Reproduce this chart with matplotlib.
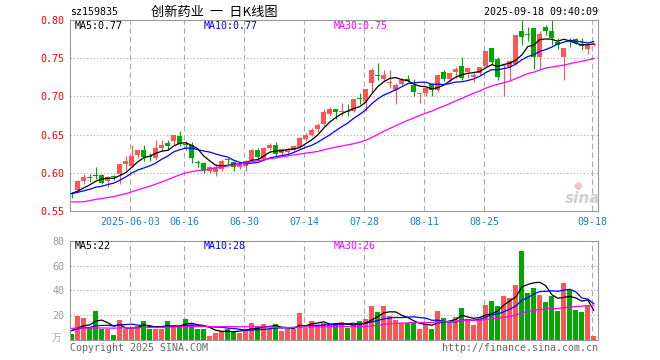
import numpy as np
import pandas as pd
import matplotlib
matplotlib.use('Agg')
from matplotlib import pyplot as plt

# trading days shown (2025-06-02 was a holiday)
dates = pd.bdate_range('2025-05-19', '2025-09-18')
dates = dates[dates != pd.Timestamp('2025-06-02')]

open_ = [0.573, 0.578, 0.589, 0.594, 0.597, 0.597, 0.589, 0.595, 0.598, 0.611,
         0.609, 0.623, 0.630, 0.622, 0.619, 0.633, 0.639, 0.642, 0.648, 0.638,
         0.637, 0.614, 0.613, 0.602, 0.601, 0.605, 0.618, 0.614, 0.607, 0.609,
         0.617, 0.630, 0.618, 0.633, 0.637, 0.626, 0.627, 0.630, 0.634, 0.644,
         0.650, 0.657, 0.664, 0.677, 0.684, 0.680, 0.681, 0.681, 0.697, 0.694,
         0.718, 0.728, 0.723, 0.717, 0.709, 0.716, 0.723, 0.715, 0.703, 0.705,
         0.716, 0.708, 0.732, 0.723, 0.732, 0.740, 0.732, 0.725, 0.730, 0.740,
         0.763, 0.749, 0.740, 0.738, 0.743, 0.785, 0.781, 0.789, 0.751, 0.791,
         0.785, 0.771, 0.751, 0.772, 0.775, 0.768, 0.762, 0.767]
high = [0.575, 0.590, 0.598, 0.598, 0.607, 0.598, 0.596, 0.597, 0.612, 0.622,
        0.636, 0.631, 0.636, 0.626, 0.643, 0.643, 0.643, 0.650, 0.655, 0.641,
        0.640, 0.617, 0.614, 0.609, 0.611, 0.618, 0.619, 0.615, 0.612, 0.617,
        0.631, 0.632, 0.634, 0.639, 0.640, 0.633, 0.632, 0.637, 0.647, 0.652,
        0.659, 0.665, 0.683, 0.686, 0.684, 0.692, 0.690, 0.696, 0.705, 0.710,
        0.737, 0.744, 0.735, 0.735, 0.718, 0.724, 0.728, 0.723, 0.705, 0.712,
        0.718, 0.729, 0.735, 0.731, 0.738, 0.751, 0.737, 0.733, 0.738, 0.760,
        0.763, 0.751, 0.741, 0.747, 0.781, 0.801, 0.791, 0.789, 0.785, 0.793,
        0.802, 0.777, 0.764, 0.777, 0.776, 0.776, 0.770, 0.770]
low = [0.567, 0.576, 0.585, 0.588, 0.592, 0.585, 0.582, 0.590, 0.585, 0.604,
       0.607, 0.620, 0.615, 0.616, 0.617, 0.629, 0.630, 0.637, 0.635, 0.630,
       0.613, 0.607, 0.600, 0.600, 0.596, 0.602, 0.611, 0.602, 0.605, 0.602,
       0.616, 0.617, 0.617, 0.630, 0.622, 0.622, 0.624, 0.628, 0.633, 0.641,
       0.648, 0.653, 0.661, 0.675, 0.670, 0.675, 0.675, 0.679, 0.690, 0.681,
       0.706, 0.721, 0.719, 0.711, 0.690, 0.715, 0.719, 0.701, 0.691, 0.700,
       0.701, 0.706, 0.720, 0.719, 0.724, 0.722, 0.724, 0.719, 0.728, 0.738,
       0.742, 0.722, 0.701, 0.721, 0.741, 0.767, 0.773, 0.736, 0.736, 0.781,
       0.767, 0.762, 0.721, 0.765, 0.768, 0.761, 0.756, 0.766]
close = [0.572, 0.589, 0.595, 0.593, 0.596, 0.587, 0.594, 0.594, 0.611, 0.615,
         0.622, 0.630, 0.621, 0.621, 0.633, 0.637, 0.635, 0.650, 0.638, 0.637,
         0.619, 0.613, 0.602, 0.607, 0.608, 0.615, 0.617, 0.608, 0.611, 0.616,
         0.630, 0.621, 0.632, 0.636, 0.624, 0.631, 0.630, 0.635, 0.645, 0.650,
         0.656, 0.662, 0.680, 0.684, 0.680, 0.681, 0.680, 0.696, 0.696, 0.710,
         0.735, 0.727, 0.728, 0.718, 0.715, 0.722, 0.720, 0.706, 0.704, 0.711,
         0.708, 0.728, 0.723, 0.731, 0.736, 0.724, 0.737, 0.728, 0.738, 0.760,
         0.745, 0.725, 0.741, 0.746, 0.781, 0.778, 0.780, 0.751, 0.782, 0.785,
         0.776, 0.767, 0.764, 0.771, 0.770, 0.766, 0.767, 0.769]
# volume, 10k lots
volume = [5, 19.7, 18, 10, 23.5, 9, 9, 4.3, 16.5, 9,
          9, 11.5, 15.5, 9, 9, 9, 15.5, 11.5, 11.5, 17,
          12, 9, 9, 3.5, 6, 7.5, 9, 7.5, 6, 9,
          14, 10.5, 12.5, 9, 12.5, 7, 9, 9, 22, 10,
          15.5, 12, 14, 12.5, 11.9, 14.6, 10, 11.9, 15.4, 16.8,
          27, 22.7, 27.6, 19.5, 16.2, 13.5, 13.5, 14.6, 9.2, 12.7,
          9.2, 23.5, 17.8, 13.5, 18.6, 26, 16.8, 12.4, 16.8, 28.6,
          31.6, 27.6, 35.7, 34, 44.6, 71.6, 38, 42, 36.5, 30.3,
          35.7, 23.5, 45.7, 40.3, 24.3, 22.7, 28.6, 3.5]

# sessions before the window, only feed the moving averages
prior_close = [0.592, 0.588, 0.548, 0.549, 0.554, 0.552, 0.556, 0.558, 0.555, 0.553,
               0.550, 0.548, 0.552, 0.550, 0.549, 0.547, 0.551, 0.553, 0.556, 0.569,
               0.574, 0.576, 0.572, 0.570, 0.574, 0.572, 0.575, 0.573, 0.572]
prior_volume = [12, 14, 18, 15, 12, 10, 9, 8, 9, 11, 8, 7, 9, 10, 8,
                7, 9, 8, 10, 9, 8, 7, 10, 9, 7, 8, 9, 7, 8]

tick_dates = ['2025-06-03', '2025-06-16', '2025-06-30', '2025-07-14',
              '2025-07-28', '2025-08-11', '2025-08-25', '2025-09-18']
tick_labels = ['2025-06-03', '06-16', '06-30', '07-14', '07-28', '08-11', '08-25', '09-18']
price_ma_text = ['MA5:0.77', 'MA10:0.77', 'MA30:0.75']
vol_ma_text = ['MA5:22', 'MA10:28', 'MA30:26']

RED = '#ff5555'
GREEN = '#00a800'
MA_COLORS = ['black', '#0000ff', '#ff00ff']
GRID = '#aaaaaa'
MONO = 'DejaVu Sans Mono'

W, H = 660, 360


def px(x, y):
    return x / W, 1 - y / H


def moving_averages(prior, values):
    s = pd.Series(list(prior) + list(values), dtype=float)
    n = len(values)
    return [s.rolling(k).mean().values[-n:] for k in (5, 10, 30)]


def style_axes(ax):
    for sp in ax.spines.values():
        sp.set_color('#999999')
        sp.set_linewidth(0.8)
    ax.tick_params(length=0)
    ax.set_xlim(-0.3, len(dates) - 0.3)


o = np.array(open_)
c = np.array(close)
x = np.arange(len(dates))
up = c >= o
colors = np.where(up, RED, GREEN)
tick_idx = [int(np.where(dates == pd.Timestamp(d))[0][0]) for d in tick_dates]

fig = plt.figure(figsize=(W / 100, H / 100), dpi=100)
fig.patch.set_facecolor('white')

# ---- price panel
ax = fig.add_axes([70 / W, 1 - 211 / H, 528 / W, 191 / H])
style_axes(ax)
ax.set_ylim(0.55, 0.80)
for lvl in [0.60, 0.65, 0.70, 0.75]:
    ax.axhline(lvl, color=GRID, lw=0.8, ls=(0, (1, 2)), zorder=0)
for t in tick_idx:
    ax.axvline(t - 0.25, color=GRID, lw=0.8, ls=(0, (5, 3)), zorder=0)

ax.vlines(x, low, high, colors=colors, lw=0.8, zorder=2)
body = np.maximum(np.abs(c - o), 0.0013)
ax.bar(x, body, bottom=np.minimum(o, c), width=0.8, color=colors, lw=0, zorder=3)

for ma, col in zip(moving_averages(prior_close, close), MA_COLORS):
    ax.plot(x, ma, color=col, lw=0.9, zorder=4)

ax.set_yticks([0.55, 0.60, 0.65, 0.70, 0.75, 0.80])
ax.set_yticklabels(['%.2f' % v for v in ax.get_yticks()], color='red',
                   family=MONO, fontsize=7.2)
ax.set_xticks([t - 0.25 for t in tick_idx])
ax.set_xticklabels(tick_labels, color='#1a82c8', family=MONO, fontsize=7.2)
ax.tick_params(axis='y', pad=4)
ax.tick_params(axis='x', pad=4)

for txt, col, xp in zip(price_ma_text, MA_COLORS, [75, 204, 334]):
    fig.text(*px(xp, 26), txt, color=col, family=MONO, fontsize=7.2, va='center')

# sina watermark
fig.text(*px(583, 198), 'sina', color='#cfcfcf', fontsize=11, style='italic',
         weight='bold', ha='center', va='center')
fig.text(*px(578, 186), '●', color='#f2c4c4', fontsize=7, ha='center', va='center')

# ---- volume panel
axv = fig.add_axes([70 / W, 1 - 340 / H, 528 / W, 99.3 / H])
style_axes(axv)
axv.set_ylim(0, 80)
for lvl in [20, 40, 60]:
    axv.axhline(lvl, color=GRID, lw=0.8, ls=(0, (1, 2)), zorder=0)
for t in tick_idx:
    axv.axvline(t - 0.25, color=GRID, lw=0.8, ls=(0, (5, 3)), zorder=0)
axv.bar(x, volume, width=0.8, color=colors, lw=0, zorder=2)
for ma, col in zip(moving_averages(prior_volume, volume), MA_COLORS):
    axv.plot(x, ma, color=col, lw=0.9, zorder=3)
axv.set_xticks([])
axv.set_yticks([20, 40, 60, 80])
axv.set_yticklabels(['20', '40', '60', '80'], color='#999999', family=MONO, fontsize=7.2)
axv.tick_params(axis='y', pad=4)
fig.text(*px(57, 338), '万', color='#aaaaaa', fontsize=7,
         family=['Noto Sans CJK SC', 'DejaVu Sans'], ha='center', va='center')

for txt, col, xp in zip(vol_ma_text, MA_COLORS, [75, 204, 334]):
    fig.text(*px(xp, 246), txt, color=col, family=MONO, fontsize=7.2, va='center')

# ---- header / footer
fig.text(*px(70, 12), 'sz159835', color='black', family=MONO, fontsize=7.2, va='center')
fig.text(*px(214, 12), '创新药业  一  日K线图', color='black', fontsize=9.5,
         family=['Noto Sans CJK SC', 'DejaVu Sans'], ha='center', va='center')
fig.text(*px(598, 12), '2025-09-18 09:40:09', color='black', family=MONO,
         fontsize=7.2, ha='right', va='center')
fig.text(*px(70, 348), 'Copyright 2025 SINA.COM', color='#666666', family=MONO,
         fontsize=7.2, va='center')
fig.text(*px(598, 348), 'http://finance.sina.com.cn', color='#666666', family=MONO,
         fontsize=7.2, ha='right', va='center')

fig.savefig('out.png', dpi=100, facecolor='white')
